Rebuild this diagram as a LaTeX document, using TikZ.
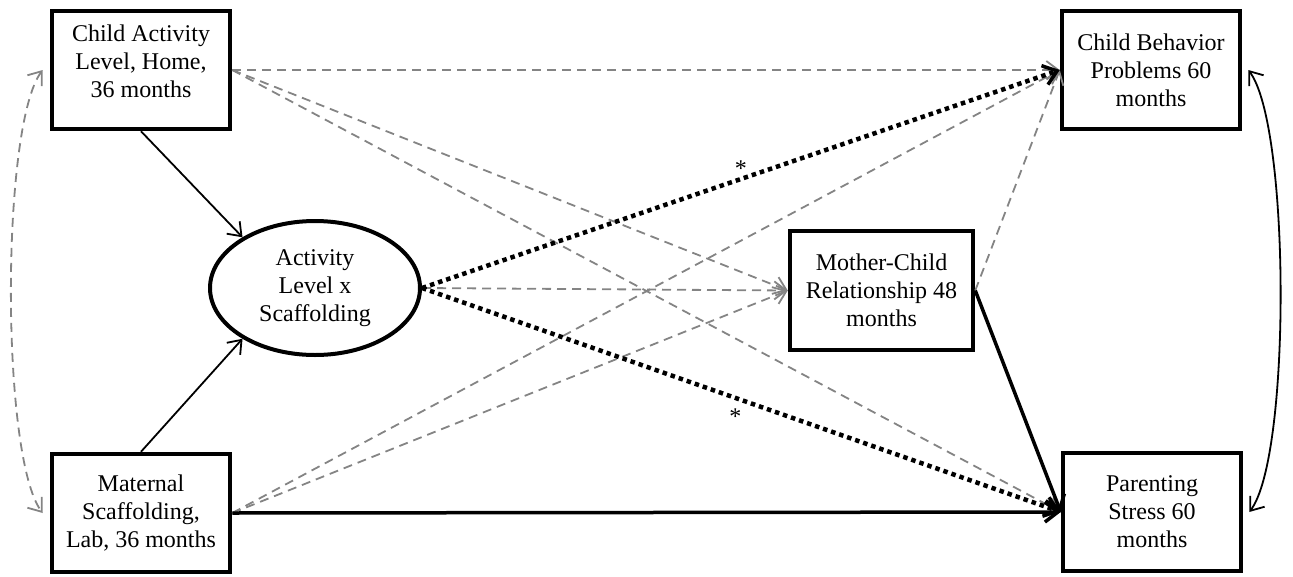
\documentclass[tikz,border=0pt]{standalone}
\usepackage{fontspec}
\setmainfont{Liberation Serif}
\usetikzlibrary{arrows.meta,shapes.geometric}
\definecolor{dgray}{RGB}{132,132,132}
\begin{document}
\begin{tikzpicture}[x=1pt,y=-1pt,
  txt/.style={font=\fontsize{24}{28}\selectfont},
  box/.style={txt,draw,line width=4.5pt,fill=white,align=center,inner sep=0pt,
    minimum width=178pt,minimum height=118pt},
  oval/.style={txt,ellipse,draw,line width=4pt,fill=white,align=center,inner sep=0pt,
    minimum width=210pt,minimum height=134pt},
  gdash/.style={dgray,line width=1.8pt,dash pattern=on 9pt off 6pt,
    -{Straight Barb[length=12pt,width=18pt]}},
  thinarr/.style={black,line width=1.8pt,-{Straight Barb[length=12pt,width=18pt]}},
  dotarr/.style={black,line width=4.5pt,dash pattern=on 4.5pt off 4pt,
    -{Straight Barb[length=13pt,width=20pt,line width=3.5pt]}},
  heavyarr/.style={black,line width=3.5pt,-{Straight Barb[length=13pt,width=20pt]}},
  star/.style={txt,inner sep=0pt}
]
\useasboundingbox (0,0) rectangle (1293,576);

\node[box] (A) at (141,70) {Child Activity\\Level, Home,\\36 months\rule[-17pt]{0pt}{0pt}};
\node[box] (B) at (141,513) {Maternal\\Scaffolding,\\Lab, 36 months};
\node[box] (C) at (1151,70) {Child Behavior\\Problems 60\\months};
\node[box] (D) at (1152,512) {Parenting\\Stress 60\\months};
\node[box,minimum width=183pt,minimum height=119pt] (MC) at (881.5,290.5) {Mother-Child\\Relationship 48\\months};
\node[oval] (E) at (315,288) {Activity\\Level x\\Scaffolding};

% dashed gray paths
\draw[gdash] (A.east) -- (C.west);
\draw[gdash] (A.east) -- (MC.west);
\draw[gdash] (A.east) -- (D.west);
\draw[gdash] (B.east) -- (C.west);
\draw[gdash] (B.east) -- (MC.west);
\draw[gdash] (E.east) -- (MC.west);
\draw[gdash] (MC.east) -- (C.west);

% thin solid
\draw[thinarr] (A.south) -- (E.145);
\draw[thinarr] (B.north) -- (E.215);

% dotted significant
\draw[dotarr] (E.east) -- node[star,yshift=10.5pt] {*} (C.west);
\draw[dotarr] (E.east) -- node[star,yshift=-16.5pt,xshift=-6pt] {*} (D.west);

% heavy solid
\draw[heavyarr] (B.east) -- (D.west);
\draw[heavyarr] (MC.east) -- (D.west);

% correlations
\draw[dgray,line width=1.8pt,dash pattern=on 9pt off 6pt,
  {Straight Barb[length=12pt,width=18pt]}-{Straight Barb[length=12pt,width=18pt]}]
  ([xshift=-7pt]A.west) .. controls +(-42,55) and +(-42,-55) .. ([xshift=-7pt]B.west);
\draw[black,line width=1.8pt,
  {Straight Barb[length=12pt,width=18pt]}-{Straight Barb[length=12pt,width=18pt]}]
  ([xshift=6pt]C.east) .. controls +(42,55) and +(42,-55) .. ([xshift=6pt]D.east);

\end{tikzpicture}
\end{document}
